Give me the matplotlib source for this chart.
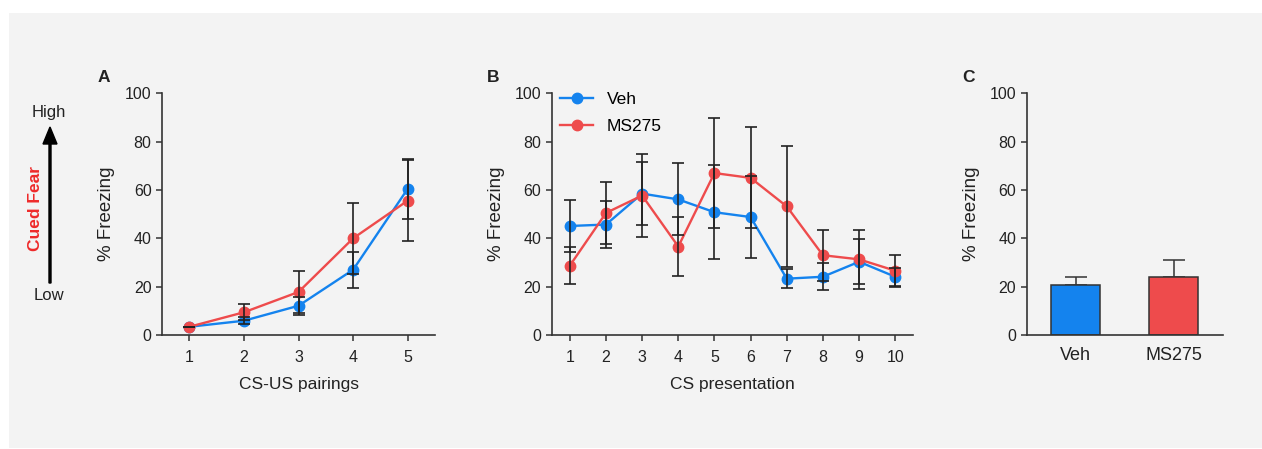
"""Three-panel freezing figure: acquisition, CS test, and context bar graph."""

import matplotlib

matplotlib.use("Agg")
import matplotlib.pyplot as plt
from matplotlib.patches import Rectangle, FancyArrow

plt.rcParams["font.family"] = ["Liberation Sans", "DejaVu Sans"]

BLUE = "#1483EE"
RED = "#EE4B4C"
INK = "#222222"
BG = "#F3F3F3"

# panel A: CS-US pairings
pairings = [1, 2, 3, 4, 5]
veh_acq = [3.4, 5.9, 12.1, 27.0, 60.5]
veh_acq_err = [0.0, 1.5, 3.8, 7.5, 12.3]
ms_acq = [3.4, 9.4, 17.8, 40.0, 55.6]
ms_acq_err = [0.0, 3.4, 8.6, 14.6, 16.8]

# panel B: CS presentations
presentations = [1, 2, 3, 4, 5, 6, 7, 8, 9, 10]
veh_cs = [45.1, 45.7, 58.5, 56.1, 50.8, 48.8, 23.3, 24.1, 30.3, 24.1]
veh_cs_err = [10.8, 9.9, 13.1, 14.9, 19.5, 16.8, 4.0, 5.5, 9.4, 3.8]
ms_cs = [28.7, 50.5, 57.7, 36.6, 67.0, 65.0, 53.2, 33.0, 31.3, 26.6]
ms_cs_err = [7.6, 12.9, 17.1, 12.2, 22.9, 20.9, 25.0, 10.6, 12.1, 6.6]

# panel C: bars
groups = ["Veh", "MS275"]
bar_means = [20.7, 24.1]
bar_err = [3.3, 6.9]

fig = plt.figure(figsize=(12.62, 4.49), dpi=100, facecolor="white")
fig.patches.append(Rectangle((9 / 1262, 1 / 449), 1 - 9 / 1262, 435 / 449,
                             transform=fig.transFigure, facecolor=BG,
                             edgecolor="none", zorder=-10))

bottom, height = 0.2539, 0.5383
ax_a = fig.add_axes([0.1284, bottom, 0.2163, height])
ax_b = fig.add_axes([0.4372, bottom, 0.2865, height])
ax_c = fig.add_axes([0.8135, bottom, 0.1555, height])


def style(ax):
    ax.set_facecolor("none")
    for side in ("top", "right"):
        ax.spines[side].set_visible(False)
    for side in ("left", "bottom"):
        ax.spines[side].set_color("#333333")
        ax.spines[side].set_linewidth(1.2)
    ax.set_ylim(0, 100)
    ax.set_yticks([0, 20, 40, 60, 80, 100])
    ax.tick_params(direction="out", length=4.5, width=1.1, color="#333333",
                   labelsize=11.5, labelcolor=INK, pad=3)
    ax.tick_params(axis="x", pad=6)
    ax.set_ylabel("% Freezing", fontsize=13.5, color=INK, labelpad=7)


def lines(ax, x, y, err, color, label):
    ax.plot(x, y, color=color, lw=1.7, marker="o", ms=7.5, mec=color,
            mfc=color, label=label, zorder=3)
    ax.errorbar(x, y, yerr=err, fmt="none", ecolor=INK, elinewidth=1.2,
                capsize=4.3, capthick=1.2, zorder=4)


style(ax_a)
lines(ax_a, pairings, veh_acq, veh_acq_err, BLUE, "Veh")
lines(ax_a, pairings, ms_acq, ms_acq_err, RED, "MS275")
ax_a.set_xlim(0.5, 5.5)
ax_a.set_xticks(pairings)
ax_a.set_xlabel("CS-US pairings", fontsize=12.5, color=INK, labelpad=9)

style(ax_b)
lines(ax_b, presentations, veh_cs, veh_cs_err, BLUE, "Veh")
lines(ax_b, presentations, ms_cs, ms_cs_err, RED, "MS275")
ax_b.set_xlim(0.5, 10.5)
ax_b.set_xticks(presentations)
ax_b.set_xlabel("CS presentation", fontsize=12.5, color=INK, labelpad=9)
ax_b.legend(loc="upper left", bbox_to_anchor=(-0.02, 1.07), frameon=False,
            fontsize=12.5, handlelength=1.9, handletextpad=0.8, labelspacing=0.7)

style(ax_c)
xc = range(len(groups))
ax_c.bar(xc, bar_means, width=0.5, color=[BLUE, RED], edgecolor="#333333",
         linewidth=1.1, zorder=2)
ax_c.errorbar(xc, bar_means, yerr=[[0, 0], bar_err], fmt="none", ecolor="#333333",
              elinewidth=1.1, capsize=8, capthick=1.1, zorder=1)
ax_c.set_xlim(-0.5, 1.5)
ax_c.set_xticks(list(xc))
ax_c.set_xticklabels(groups, fontsize=13)
ax_c.tick_params(axis="x", length=0, pad=9)

for x, letter in [(98, "A"), (487, "B"), (962, "C")]:
    fig.text(x / 1262, 1 - 77 / 449, letter, fontsize=12.5, fontweight="bold",
             color=INK, va="center", ha="left")

# cued fear scale on the far left
fig.text(35 / 1262, 1 - 209 / 449, "Cued Fear", rotation=90, color="#EE2A2A",
         fontsize=12.5, fontweight="bold", ha="center", va="center")
fig.text(49 / 1262, 1 - 112 / 449, "High", fontsize=12, color=INK,
         ha="center", va="center")
fig.text(49 / 1262, 1 - 295 / 449, "Low", fontsize=12, color=INK,
         ha="center", va="center")
fig.patches.append(FancyArrow(50 / 1262, 1 - 283 / 449, 0, (283 - 127) / 449,
                              width=2 / 1262, head_width=14 / 1262,
                              head_length=17 / 449, length_includes_head=True,
                              transform=fig.transFigure, color="black"))

fig.savefig("out.png", dpi=100, facecolor="white")
